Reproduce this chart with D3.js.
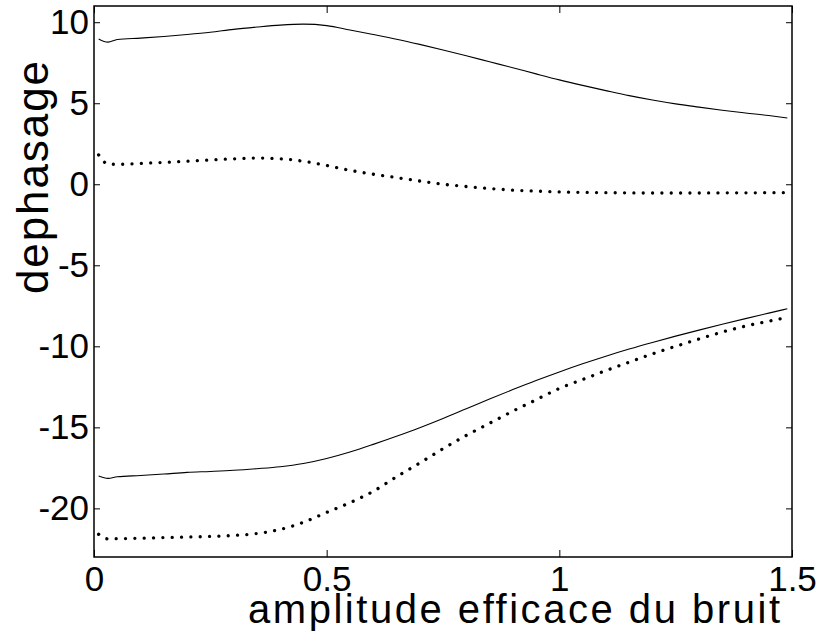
<!DOCTYPE html>
<html>
<head>
<meta charset="utf-8">
<script src="https://cdn.jsdelivr.net/npm/d3@7"></script>
<style>
	body { margin: 0; background: #fff; }
	svg { display: block; font-family: "Liberation Sans", Arial, Helvetica, sans-serif; }
	.tick line { stroke: #000; stroke-width: 1; }
	.tick text { fill: #000; font-size: 35px; }
</style>
</head>
<body>
<div id="chart"></div>
<script>
/*
Data
*/
const amplitude = [0.01, 0.03, 0.05, 0.1, 0.15, 0.2, 0.25, 0.3, 0.35, 0.4, 0.45, 0.5,
	0.55, 0.6, 0.65, 0.7, 0.75, 0.8, 0.85, 0.9, 0.95, 1.0, 1.05, 1.1, 1.15, 1.2,
	1.25, 1.3, 1.35, 1.4, 1.45, 1.49];
const solideHaut = [8.97, 8.77, 8.93, 9.02, 9.12, 9.24, 9.38, 9.56, 9.70, 9.82, 9.88, 9.79,
	9.52, 9.24, 8.95, 8.63, 8.29, 7.93, 7.56, 7.19, 6.81, 6.44, 6.10, 5.78, 5.47, 5.20,
	4.96, 4.76, 4.57, 4.40, 4.24, 4.09];
const pointilleHaut = [1.81, 1.25, 1.23, 1.29, 1.35, 1.42, 1.50, 1.57, 1.62, 1.57, 1.42, 1.16,
	0.86, 0.62, 0.41, 0.20, 0.00, -0.14, -0.26, -0.36, -0.42, -0.47, -0.50, -0.52, -0.53, -0.54,
	-0.54, -0.54, -0.53, -0.53, -0.52, -0.52];
const solideBas = [-18.0, -18.15, -18.05, -17.97, -17.88, -17.78, -17.72, -17.65, -17.55, -17.43, -17.23, -16.92,
	-16.52, -16.05, -15.55, -15.02, -14.45, -13.85, -13.25, -12.67, -12.11, -11.58, -11.08, -10.61, -10.17, -9.76,
	-9.37, -9.0, -8.64, -8.29, -7.95, -7.68];
const pointilleBas = [-21.6, -21.88, -21.87, -21.84, -21.8, -21.77, -21.73, -21.67, -21.55, -21.3, -20.86, -20.25,
	-19.65, -18.95, -18.05, -17.2, -16.32, -15.5, -14.75, -14.0, -13.3, -12.6, -12.05, -11.5, -10.98, -10.47,
	-10.0, -9.55, -9.12, -8.75, -8.45, -8.21];
const xTicks = [0, 0.5, 1, 1.5];
const yTicks = [-20, -15, -10, -5, 0, 5, 10];

const width = 817;
const height = 633;
const margin = {top: 6, right: 25, bottom: 76, left: 94};

const svg = d3.select("#chart")
	.append("svg")
	.attr("width", width)
	.attr("height", height);

const x = d3.scaleLinear().domain([0, 1.5]).range([margin.left, width - margin.right]);
const y = d3.scaleLinear().domain([-23, 11]).range([height - margin.bottom, margin.top]);
const fmt = (d) => String(d);

/*
Axes, ticks pointing inward like matlab
*/
svg.append("g")
	.attr("transform", `translate(0, ${height - margin.bottom})`)
	.call(d3.axisBottom(x).tickValues(xTicks).tickFormat(fmt).tickSize(-7).tickPadding(9))
	.call((g) => g.select(".domain").remove());
svg.append("g")
	.attr("transform", `translate(0, ${margin.top})`)
	.call(d3.axisTop(x).tickValues(xTicks).tickFormat("").tickSize(-7))
	.call((g) => g.select(".domain").remove());
svg.append("g")
	.attr("transform", `translate(${margin.left}, 0)`)
	.call(d3.axisLeft(y).tickValues(yTicks).tickFormat(fmt).tickSize(-6).tickPadding(5))
	.call((g) => g.select(".domain").remove());
svg.append("g")
	.attr("transform", `translate(${width - margin.right}, 0)`)
	.call(d3.axisRight(y).tickValues(yTicks).tickFormat("").tickSize(-6))
	.call((g) => g.select(".domain").remove());

svg.append("rect")
	.attr("x", margin.left)
	.attr("y", margin.top)
	.attr("width", width - margin.left - margin.right)
	.attr("height", height - margin.top - margin.bottom)
	.attr("fill", "none")
	.attr("stroke", "#000")
	.attr("stroke-width", 1.5);

/*
Curves
*/
const line = d3.line()
	.x((d) => x(d[0]))
	.y((d) => y(d[1]))
	.curve(d3.curveMonotoneX);
const series = [
	{values: solideHaut, dotted: false},
	{values: pointilleHaut, dotted: true},
	{values: solideBas, dotted: false},
	{values: pointilleBas, dotted: true}
];
series.forEach((s) => {
	const path = svg.append("path")
		.datum(amplitude.map((a, i) => [a, s.values[i]]))
		.attr("d", line)
		.attr("fill", "none")
		.attr("stroke", "#000");
	if (s.dotted) {
		path.attr("stroke-width", 3.3)
			.attr("stroke-linecap", "round")
			.attr("stroke-dasharray", "0.01 9.33");
	} else {
		path.attr("stroke-width", 1.1);
	}
});

/*
Axis labels
*/
svg.append("text")
	.attr("x", 248)
	.attr("y", 623)
	.attr("textLength", 532)
	.attr("lengthAdjust", "spacing")
	.style("font-size", "40px")
	.text("amplitude efficace du bruit");
svg.append("text")
	.attr("transform", "translate(48, 178) rotate(-90)")
	.attr("x", -116)
	.attr("textLength", 233)
	.attr("lengthAdjust", "spacing")
	.style("font-size", "44px")
	.text("dephasage");
</script>
</body>
</html>
